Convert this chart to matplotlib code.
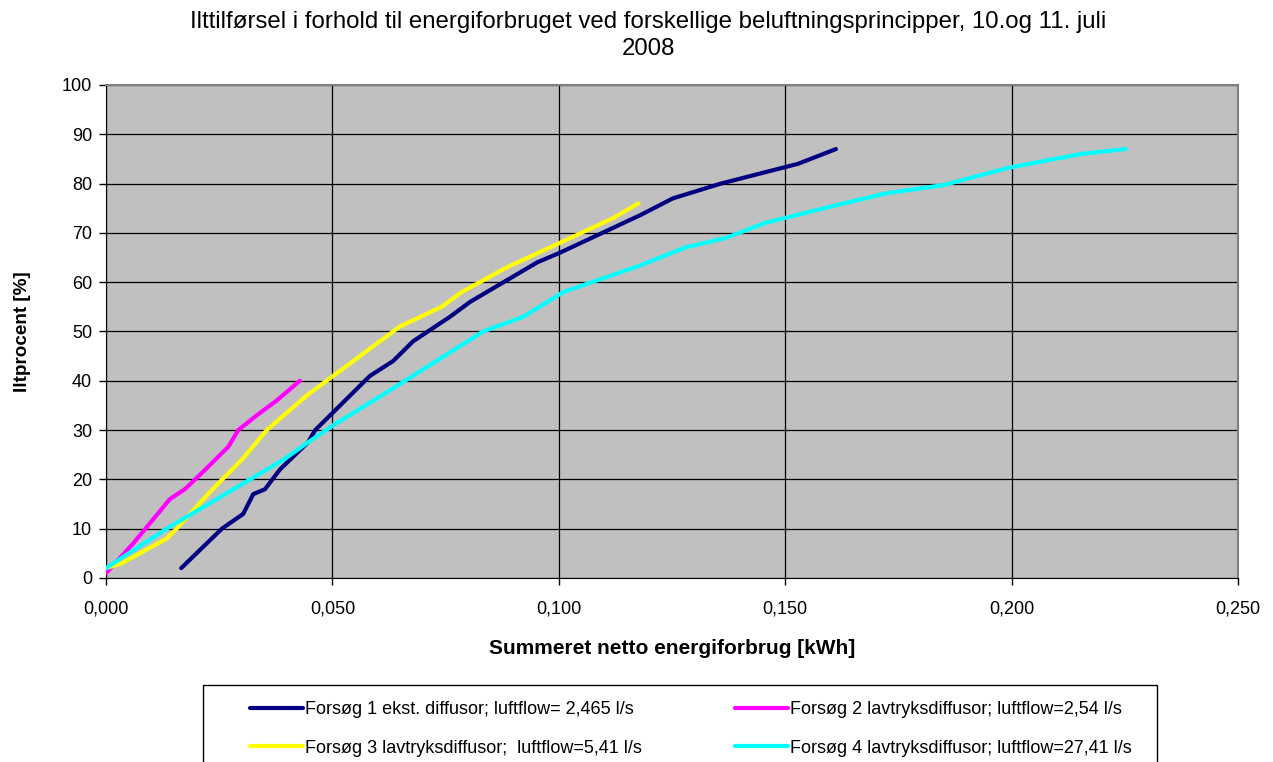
import matplotlib.pyplot as plt
from matplotlib.patches import Rectangle

plt.rcParams['font.family'] = ['Liberation Sans', 'DejaVu Sans']

# data (x = summeret energiforbrug kWh, y = iltprocent %)
f1_x = [0.0166, 0.0256, 0.0303, 0.0325, 0.0351, 0.0384, 0.0446, 0.0462, 0.0495, 0.0583,
        0.0634, 0.0678, 0.0760, 0.0804, 0.0952, 0.1003, 0.1180, 0.1252, 0.1358, 0.1528, 0.1612]
f1_y = [2, 10, 13, 17, 18, 22, 27.5, 30, 33, 41, 44, 48, 53, 56, 64, 66, 73.6, 77, 80, 84, 87]

f2_x = [0.0, 0.006, 0.0141, 0.0174, 0.0215, 0.027, 0.0292, 0.0333, 0.0377, 0.0428]
f2_y = [1, 7, 16, 18, 21.6, 26.6, 30, 33, 36, 40]

f3_x = [0.0, 0.0035, 0.0134, 0.0156, 0.023, 0.0303, 0.0355, 0.0443, 0.0487, 0.059,
        0.0649, 0.0741, 0.0786, 0.0885, 0.1003, 0.112, 0.1176]
f3_y = [2, 3, 8, 10, 17.5, 24.3, 30, 37, 40, 47, 51, 55, 58, 63, 68, 73, 76]

f4_x = [0.0, 0.0134, 0.0392, 0.0443, 0.0502, 0.0605, 0.0833, 0.0922, 0.101, 0.118,
        0.1278, 0.137, 0.1455, 0.1612, 0.1722, 0.185, 0.1993, 0.2154, 0.2252]
f4_y = [2, 10, 24, 27.3, 31, 36.8, 50, 53, 58, 63.4, 67, 69, 72, 75.6, 78, 79.7, 83.2, 86, 87]

labels = ["Forsøg 1 ekst. diffusor; luftflow= 2,465 l/s",
          "Forsøg 2 lavtryksdiffusor; luftflow=2,54 l/s",
          "Forsøg 3 lavtryksdiffusor;  luftflow=5,41 l/s",
          "Forsøg 4 lavtryksdiffusor; luftflow=27,41 l/s"]
colors = ['#000080', '#FF00FF', '#FFFF00', '#00FFFF']

x_ticks = [0.0, 0.05, 0.10, 0.15, 0.20, 0.25]
x_ticklabels = ['0,000', '0,050', '0,100', '0,150', '0,200', '0,250']
y_ticks = list(range(0, 101, 10))

fig = plt.figure(figsize=(12.73, 7.62), dpi=100)
ax = fig.add_axes([0.0833, 0.2415, 0.8892, 0.647])
ax.set_facecolor('#C0C0C0')

series = [(f1_x, f1_y), (f2_x, f2_y), (f3_x, f3_y), (f4_x, f4_y)]
handles = []
for (xs, ys), c, lab in zip(series, colors, labels):
    h, = ax.plot(xs, ys, color=c, lw=3, label=lab, solid_capstyle='round', zorder=3)
    handles.append(h)

ax.set_xlim(0, 0.25)
ax.set_ylim(0, 100)
ax.set_xticks(x_ticks)
ax.set_xticklabels(x_ticklabels)
ax.set_yticks(y_ticks)
ax.tick_params(labelsize=13, length=5, width=1, direction='out')
ax.tick_params(axis='x', pad=11)
ax.tick_params(axis='y', pad=5)
ax.grid(True, color='black', lw=0.9)
ax.set_axisbelow(True)
for s in ['top', 'right']:
    ax.spines[s].set_color('#808080')
    ax.spines[s].set_linewidth(1.5)
for s in ['left', 'bottom']:
    ax.spines[s].set_color('black')

ax.set_xlabel('Summeret netto energiforbrug [kWh]', fontsize=15, fontweight='bold', labelpad=16)
ax.set_ylabel('Iltprocent [%]', fontsize=13.6, fontweight='bold', labelpad=22)
fig.text(0.509, 1 - 11 / 762, 'Ilttilførsel i forhold til energiforbruget ved forskellige beluftningsprincipper, 10.og 11. juli\n2008',
         ha='center', va='top', fontsize=17.3, linespacing=1.27)

# legend box (runs past the bottom edge)
fig.patches.append(Rectangle((203 / 1273, -0.05), (1157 - 203) / 1273, 0.05 + 77 / 762,
                             transform=fig.transFigure, fill=False, edgecolor='black', lw=1))
leg_kw = dict(loc='upper left', frameon=False, fontsize=13, handlelength=2.95,
              handletextpad=0.1, labelspacing=1.2, borderpad=0, borderaxespad=0)
leg1 = fig.legend([handles[0], handles[2]], [labels[0], labels[2]],
                  bbox_to_anchor=(250 / 1273, 1 - 701 / 762), **leg_kw)
leg2 = fig.legend([handles[1], handles[3]], [labels[1], labels[3]],
                  bbox_to_anchor=(735 / 1273, 1 - 701 / 762), **leg_kw)

fig.savefig('out.png', dpi=100)
